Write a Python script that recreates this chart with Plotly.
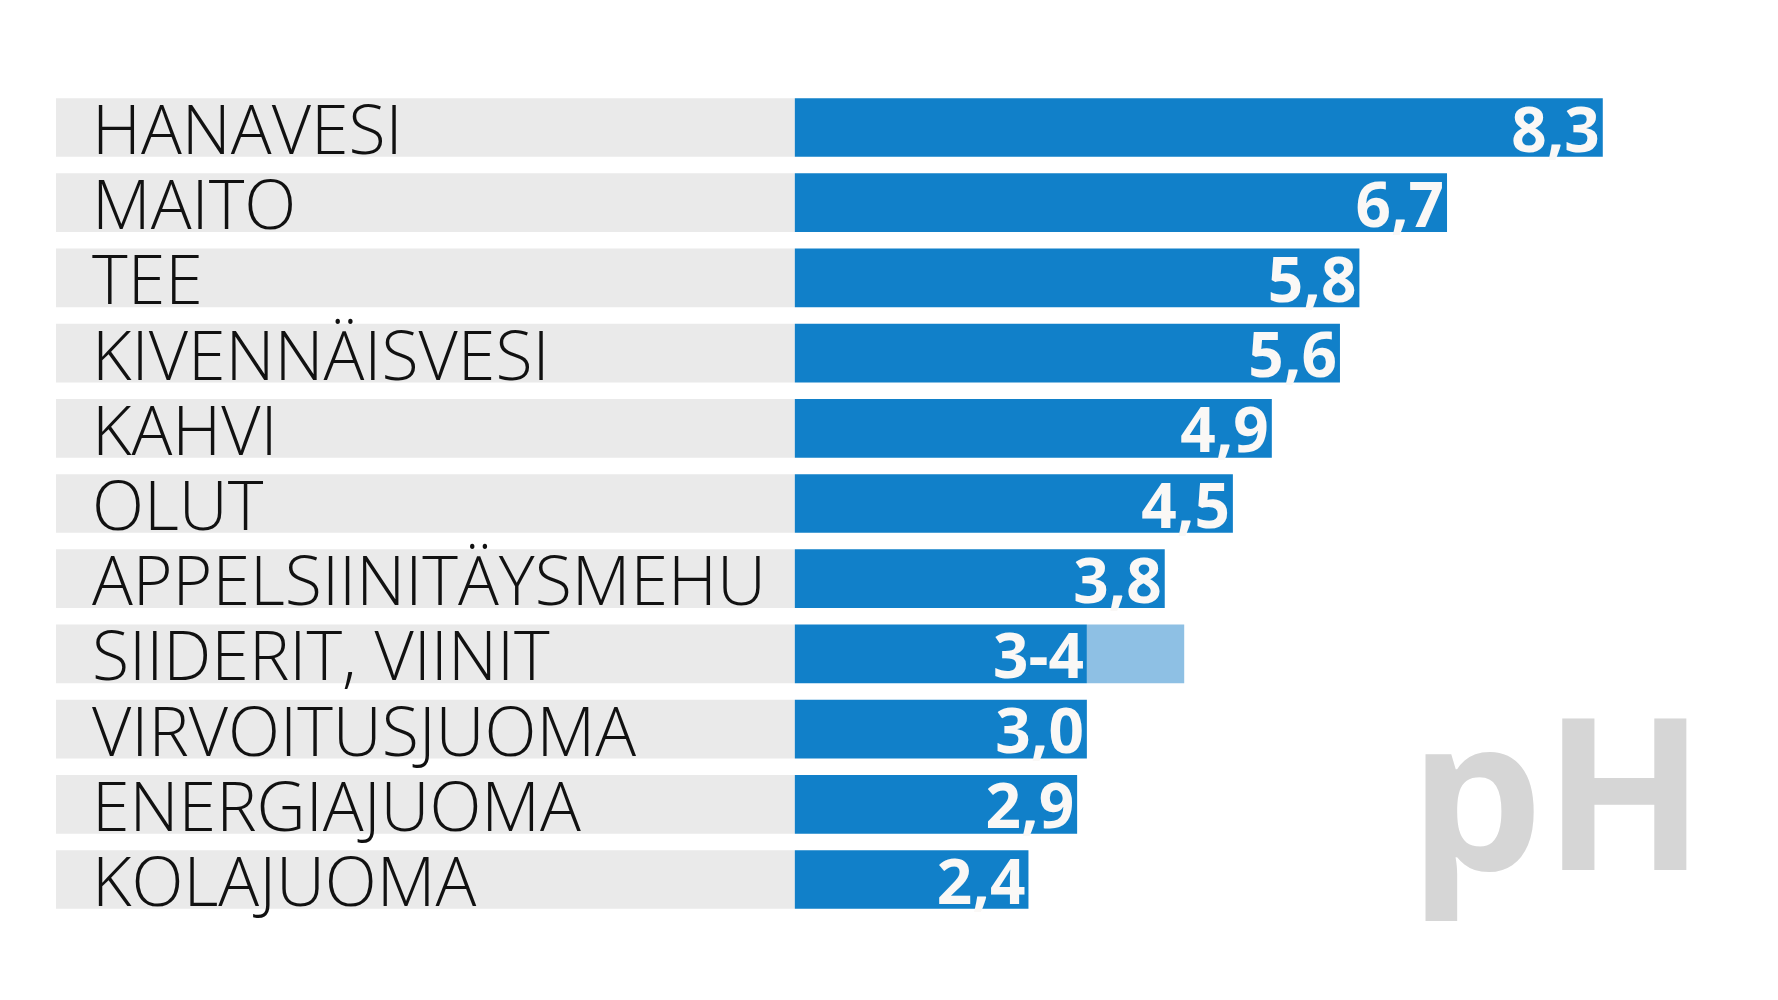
import plotly.graph_objects as go

# juomien pH-arvot
juomat = ["HANAVESI", "MAITO", "TEE", "KIVENNÄISVESI", "KAHVI", "OLUT",
          "APPELSIINITÄYSMEHU", "SIIDERIT, VIINIT", "VIRVOITUSJUOMA",
          "ENERGIAJUOMA", "KOLAJUOMA"]
ph_arvot = [8.3, 6.7, 5.8, 5.6, 4.9, 4.5, 3.8, 3.0, 3.0, 2.9, 2.4]
ph_tekstit = ["8,3", "6,7", "5,8", "5,6", "4,9", "4,5", "3,8", "3-4", "3,0", "2,9", "2,4"]
# vaihteluvälin yläraja (vain siidereillä ja viineillä)
ph_ylaraja = [None, None, None, None, None, None, None, 4.0, None, None, None]

SININEN = "#1180c9"
VAALEA = "#8ec0e4"
HARMAA = "#eaeaea"

x_min = -7.59   # harmaan nimikaistan vasen reuna
x_max = 10.10

fig = go.Figure()

# harmaat nimikaistat
fig.add_trace(go.Bar(
    y=juomat, x=[-x_min] * len(juomat), base=x_min, orientation="h",
    marker=dict(color=HARMAA, line=dict(width=0)), hoverinfo="skip",
))

# vaihteluvälin vaalea osa
vali_base = [a if b is not None else None for a, b in zip(ph_arvot, ph_ylaraja)]
vali_pituus = [b - a if b is not None else None for a, b in zip(ph_arvot, ph_ylaraja)]
fig.add_trace(go.Bar(
    y=juomat, x=vali_pituus, base=vali_base, orientation="h",
    marker=dict(color=VAALEA, line=dict(width=0)), hoverinfo="skip",
))

# varsinaiset pylväät
fig.add_trace(go.Bar(
    y=juomat, x=ph_arvot, orientation="h",
    marker=dict(color=SININEN, line=dict(width=0)),
    text=ph_tekstit, textposition="inside", insidetextanchor="end",
    textangle=0, constraintext="none",
    insidetextfont=dict(family="Open Sans", size=62, color="#faf8f6", weight="bold"),
))

# juomien nimet harmaalle kaistalle
for nimi in juomat:
    fig.add_annotation(
        x=0.0197, xref="paper", y=nimi, yref="y",
        text=nimi, showarrow=False, xanchor="left", yanchor="middle",
        font=dict(family="Open Sans", size=68, color="#111111", weight=300),
    )

# iso pH-teksti
fig.add_annotation(
    x=0.959, xref="paper", y=0.165, yref="paper",
    text="pH", showarrow=False, xanchor="right", yanchor="middle",
    font=dict(family="Open Sans", size=212, color="#d6d6d6", weight="bold"),
)

fig.update_layout(
    width=1770, height=984,
    margin=dict(l=48, r=0, t=71, b=64),
    paper_bgcolor="white", plot_bgcolor="white",
    barmode="overlay", bargap=0.22, showlegend=False,
    xaxis=dict(range=[x_min, x_max], visible=False, fixedrange=True),
    yaxis=dict(autorange="reversed", visible=False, fixedrange=True),
)

fig.write_html("out.html")
